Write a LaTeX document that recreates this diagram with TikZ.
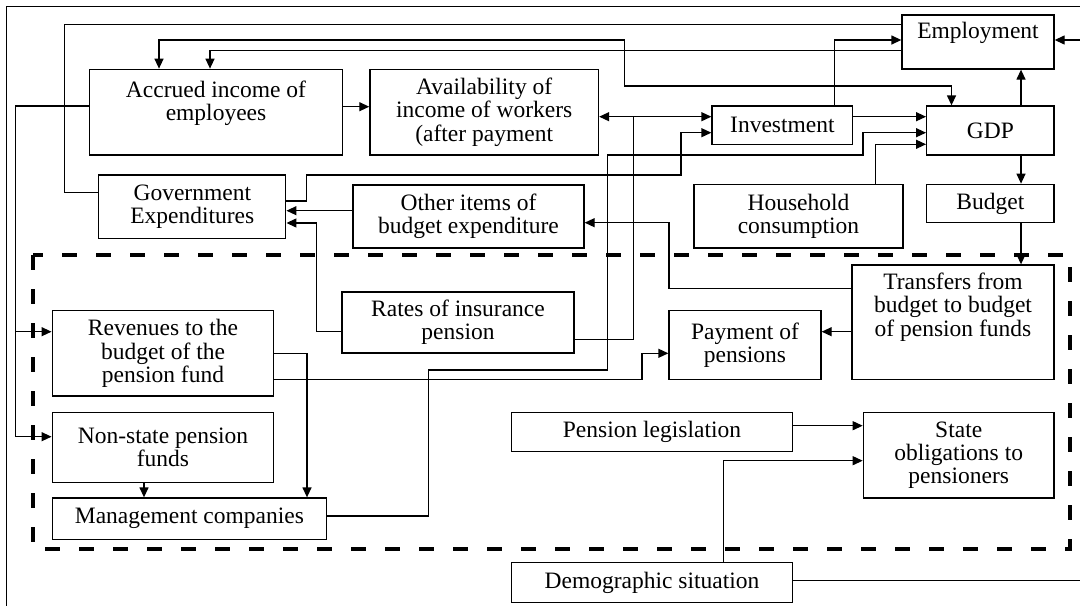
\documentclass[tikz,border=0pt]{standalone}
\usepackage{fontspec}
\setmainfont{Liberation Serif}
\usetikzlibrary{arrows.meta}

\begin{document}
\begin{tikzpicture}[x=0.5pt, y=-0.5pt, line width=0.65pt,
		>={Triangle[length=5pt,width=4.5pt]},
		box/.style={shape=rectangle, draw=black, inner sep=0pt, align=center, font=\fontsize{11.75}{11.7}\selectfont},
		zone/.style={line width=2pt, dash pattern=on 7.5pt off 9.5pt}]
	\useasboundingbox (0,0) rectangle (1080,605);
	\clip (0,0) rectangle (1080,605);
	\draw[line width=0.5pt] (6,615) -- (6,6.5) -- (1095,6.5);
	\draw[zone] (33.4,255) rectangle (1070,549);
				\node[box, minimum width=76pt, minimum height=27pt] (emp) at (978,42) {Employment\\\mbox{}};
				\node[box, minimum width=126.5pt, minimum height=42.9pt] (acc) at (216,112.2) {Accrued income of\\employees\\\mbox{}};
				\node[box, minimum width=114.3pt, minimum height=42.9pt] (avail) at (484.2,112.2) {Availability of\\income of workers\\(after payment};
				\node[box, minimum width=70.4pt, minimum height=19.2pt] (inv) at (782.4,125.2) {Investment};
				\node[box, minimum width=63.7pt, minimum height=24.5pt] (gdp) at (990.4,130.5) {GDP};
				\node[box, minimum width=93.5pt, minimum height=31.7pt] (gov) at (192.3,206.7) {Government\\Expenditures};
				\node[box, minimum width=115.5pt, minimum height=31.5pt] (other) at (468.5,216.5) {Other items of\\budget expenditure};
				\node[box, minimum width=104.5pt, minimum height=31.9pt] (house) at (798.5,216.2) {Household\\consumption};
				\node[box, minimum width=63.7pt, minimum height=19.2pt] (budget) at (990.4,203.5) {Budget};
				\node[box, minimum width=101pt, minimum height=57.2pt] (trans) at (953,322.2) {Transfers from\\budget to budget\\of pension funds\\[6pt]\mbox{}};
				\node[box, minimum width=76pt, minimum height=34.3pt] (pay) at (745,345) {Payment of\\pensions};
				\node[box, minimum width=116pt, minimum height=30.5pt] (rates) at (458,322.5) {Rates of insurance\\pension};
				\node[box, minimum width=110.8pt, minimum height=42.7pt] (rev) at (163,353.4) {Revenues to the\\budget of the\\pension fund};
				\node[box, minimum width=110.8pt, minimum height=35pt] (nsf) at (163,447.3) {Non-state pension\\funds};
				\node[box, minimum width=137pt, minimum height=20.7pt] (mgmt) at (189.4,518.7) {Management companies};
				\node[box, minimum width=140.3pt, minimum height=19.7pt] (leg) at (652,432) {Pension legislation};
				\node[box, minimum width=95.4pt, minimum height=42.9pt] (state) at (958.7,455.2) {State\\obligations to\\pensioners};
				\node[box, minimum width=140.3pt, minimum height=20pt] (demo) at (652,582.7) {Demographic situation};
				\coordinate (jinv) at (633.7,116.7);
				\coordinate (jrev) at (15.5,331.7);
				\draw (emp.west |- 0,24.3) -| (64.7,192.7) -- (gov.west |- 0,192.7);
				\draw[->] (emp.west |- 0,50.7) -| (acc.north -| 210,0);
				\draw[<->] (acc.north -| 159,0) |- (624.4,40) -- (624.4,86) -| (gdp.north -| 951.5,0);
				\draw[->] (inv.north -| 834.4,0) |- (emp.west |- 0,40);
				\draw[->] (demo.east |- 0,580.7) -- (1095,580.7) |- (emp.east |- 0,40);
				\path[->] (acc.east |- 0,106.7) edge (avail.west |- 0,106.7);
				\path[<->] (avail.east |- 0,116.7) edge (inv.west |- 0,116.7);
				\path[->] (inv.east |- 0,116.7) edge (gdp.west |- 0,116.7);
				\draw (rates.east |- 0,339.3) -| (jinv);
				\draw[->] (acc.west |- 0,106) -| (15.5,436.7) -- (nsf.west |- 0,436.7);
				\path[->] (jrev) edge (rev.west |- 0,331.7);
				\draw[->] (gov.east |- 0,201) -| (306.5,175) -| (681,132.7) -- (inv.west |- 0,132.7);
				\draw[->] (mgmt.east |- 0,516) -| (428.7,370) -| (607.7,155) -| (863,132.7) -- (gdp.west |- 0,132.7);
				\draw[->] (house.north -| 875.7,0) |- (gdp.west |- 0,144.3);
				\path[->] (gdp.north -| 1021,0) edge (emp.south -| 1021,0);
				\path[->] (gdp.south -| 1021,0) edge (budget.north -| 1021,0);
				\path[->] (budget.south -| 1021,0) edge (trans.north -| 1021,0);
				\path[->] (other.west |- 0,210.7) edge (gov.east |- 0,210.7);
				\draw[->] (rates.west |- 0,331.7) -| (316.7,223) -- (gov.east |- 0,223);
				\draw[->] (trans.west |- 0,288.3) -| (669,222.7) -- (other.east |- 0,222.7);
				\path[->] (trans.west |- 0,331.7) edge (pay.east |- 0,331.7);
				\draw[->] (rev.east |- 0,353.3) -| (mgmt.north -| 307,0);
				\draw[->] (rev.east |- 0,379.3) -| (642,353.3) -- (pay.west |- 0,353.3);
				\path[->] (nsf.south -| 144,0) edge (mgmt.north -| 144,0);
				\path[->] (leg.east |- 0,425.7) edge (state.west |- 0,425.7);
				\draw[->] (demo.north -| 723.8,0) |- (state.west |- 0,460.7);
\end{tikzpicture}
\end{document}
